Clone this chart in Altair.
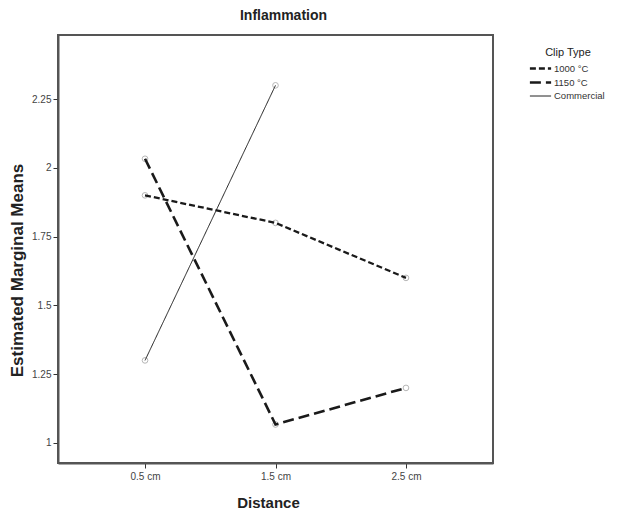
import altair as alt
import pandas as pd

distance = ["0.5 cm", "1.5 cm", "2.5 cm"]
clip_types = ["1000 °C", "1150 °C", "Commercial"]
means_1000 = [1.9, 1.8, 1.6]
means_1150 = [2.033, 1.067, 1.2]
means_commercial = [1.3, 2.3, None]
y_ticks = [1, 1.25, 1.5, 1.75, 2, 2.25]

rows = []
for ct, vals in zip(clip_types, [means_1000, means_1150, means_commercial]):
    for d, v in zip(distance, vals):
        if v is not None:
            rows.append({"Distance": d, "Clip Type": ct, "Mean": v})
df = pd.DataFrame(rows)

x = alt.X("Distance:N", sort=distance,
          scale=alt.Scale(type="point", padding=0.667),
          axis=alt.Axis(labelAngle=0, title="Distance", titlePadding=14, labelPadding=3,
                        titleFontSize=15, titleX=210))
y = alt.Y("Mean:Q",
          scale=alt.Scale(domain=[0.927, 2.483], nice=False, zero=False),
          axis=alt.Axis(values=y_ticks, format=".2~f", title="Estimated Marginal Means",
                        titlePadding=5, labelPadding=2, titleFontSize=17, titleY=235))

leg = alt.Legend(title="Clip Type", orient="none", legendX=474, legendY=12,
                 symbolType="M-1.5,0H1.5", symbolStrokeColor="#1a1a1a",
                 symbolSize=200, labelFontSize=9.5, titleFontSize=11,
                 titleFontWeight="normal", titleAnchor="middle",
                 rowPadding=0, labelOffset=5, titlePadding=2)

lines = alt.Chart(df).mark_line(color="#1a1a1a").encode(
    x=x, y=y,
    strokeDash=alt.StrokeDash("Clip Type:N", sort=clip_types,
                              scale=alt.Scale(domain=clip_types, range=[[6, 3], [11, 5], [1, 0]]),
                              legend=leg),
    strokeWidth=alt.StrokeWidth("Clip Type:N", sort=clip_types,
                                scale=alt.Scale(type="ordinal", domain=clip_types, range=[2.3, 2.6, 1]),
                                legend=leg),
    detail="Clip Type:N",
)

points = alt.Chart(df).mark_point(shape="circle", filled=False, size=32, color="#999999", strokeWidth=1).encode(
    x=x, y=y, detail="Clip Type:N")

chart = alt.layer(points, lines).properties(
    width=435, height=428,
    title=alt.TitleParams("Inflammation", fontSize=14, font="Liberation Sans", fontWeight="bold",
                          offset=12, dx=8, color="#222"),
    autosize=alt.AutoSizeParams(type="none"),
    padding={"left": 50, "top": 27, "right": 119, "bottom": 48},
).configure_view(stroke="#555555", strokeWidth=2).configure_axis(
    grid=False, domainColor="#555555", domainWidth=2, tickColor="#333333", tickSize=5,
    labelFont="Liberation Sans", labelFontSize=10, labelColor="#444444",
    titleFont="Liberation Sans", titleFontWeight="bold", titleColor="#222222",
).configure_legend(labelFont="Liberation Sans", titleFont="Liberation Sans", labelColor="#333333", titleColor="#222222")

chart.save("out.html", embed_options={"renderer": "svg", "actions": False})
